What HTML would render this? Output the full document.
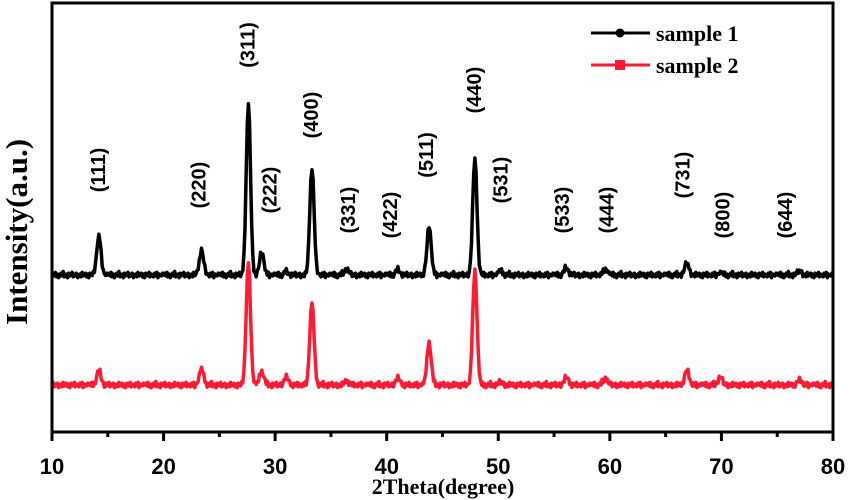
<!DOCTYPE html>
<html><head><meta charset="utf-8"><style>
body{margin:0;background:#fff}
svg{display:block}
.t{font-family:"Liberation Sans",sans-serif;font-weight:bold;font-size:22px}
.s{font-family:"Liberation Serif",serif;font-weight:bold}
</style></head><body>
<svg id="c" width="851" height="500"></svg>
<script>
const peakPos=[14.2,23.4,27.6,28.8,31.0,33.3,36.4,41.0,43.8,47.9,50.2,56.1,59.6,66.9,69.9,77.0];
const s1Heights=[39,25,173,23,3,108,6,5,49,117,4,7,6,12,2,4];
const s2Heights=[14,16,123,14,8,82,4,7,43,115,3,8,7,15,8,5];
const s1Base=157, s2Base=47;
const noise=[0,2,-1,3,-2,1,-3,0,2,-1,4,-2,0,1,-3,2,-1,0,3,-2,1,-1,2,-3,0,1,-2,3,-1,0,2,-2,1,-3,2,0,-1,3,-2,1,0,-2,2,-1,3,-3,1,0,-1,2];
const xTicks=[10,20,30,40,50,60,70,80];
const hkl=["(111)","(220)","(311)","(222)","(400)","(331)","(422)","(511)","(440)","(531)","(533)","(444)","(731)","(800)","(644)"];
const hklX=[14.2,23.2,27.6,29.6,33.3,36.6,40.4,43.6,47.9,50.3,55.8,59.8,66.6,70.2,75.8];
const hklY=[170,185,45,190,115,210,215,155,90,180,210,210,175,215,215];
const svg=document.getElementById('c');const NS='http://www.w3.org/2000/svg';
const X=v=>52+(v-10)*(833-52)/70, Y=v=>432-v;
function el(t,a,txt){const e=document.createElementNS(NS,t);for(const k in a)e.setAttribute(k,a[k]);if(txt!==undefined)e.textContent=txt;svg.appendChild(e);return e;}
function series(h,base,color,name,off){let d='';let k=0;for(let x=10;x<=80.001;x+=0.1,k++){let v=base+noise[(k+off)%noise.length]*0.9;for(let i=0;i<peakPos.length;i++){const z=(x-peakPos[i])/0.19;v+=h[i]*Math.exp(-z*z/2);}d+=(d?'L':'M')+X(x).toFixed(1)+','+Y(v).toFixed(1);}
const p=el('path',{d:d,fill:'none',stroke:color,'stroke-width':3.5,'stroke-linejoin':'round'});

}
series(s2Heights,s2Base,'#ff1a33','sample-2-line',17);
series(s1Heights,s1Base,'#000','sample-1-line',0);
const fr=el('rect',{x:52,y:3,width:781,height:429,fill:'none',stroke:'#000','stroke-width':3});


for(let v=10;v<=80;v+=5){const major=v%10===0;el('line',{x1:X(v),x2:X(v),y1:432,y2:major?441:437,stroke:'#000','stroke-width':3});}
xTicks.forEach(v=>{const t=el('text',{x:X(v),y:474,'text-anchor':'middle',class:'t'},v);

});
hkl.forEach((s,i)=>{const x=X(hklX[i]),y=hklY[i];const t=el('text',{x:x,y:y,'text-anchor':'middle','dominant-baseline':'central',class:'t',transform:`rotate(-90 ${x} ${y})`,style:'font-size:20px'},s);

});
const xt=el('text',{x:443,y:494,'text-anchor':'middle',class:'s',style:'font-size:22px'},'2Theta(degree)');


const yt=el('text',{x:27,y:232,'text-anchor':'middle',class:'s',style:'font-size:31px',transform:'rotate(-90 27 232)'},'Intensity(a.u.)');


[['sample 1','#000',33,'c'],['sample 2','#ff1a33',65,'r']].forEach(([n,c,y,m],i)=>{
el('line',{x1:591,x2:650,y1:y,y2:y,stroke:c,'stroke-width':3});
if(m==='c')el('circle',{cx:620,cy:y,r:4.5,fill:c});else el('rect',{x:615,y:y-5,width:10,height:10,fill:c});
const t=el('text',{x:656,y:y+8,class:'s',style:'font-size:22px'},n);

});
</script></body></html>
